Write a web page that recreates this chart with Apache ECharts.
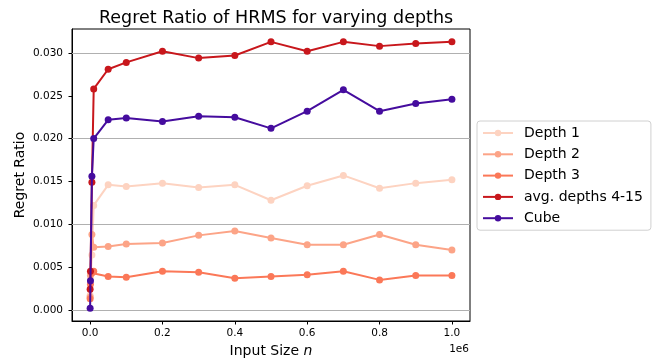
<!DOCTYPE html>
<html>
<head>
<meta charset="utf-8">
<script src="https://cdn.jsdelivr.net/npm/echarts@6/dist/echarts.min.js"></script>
<style>
html,body{margin:0;padding:0;background:#fff;}
#chart{width:662px;height:363px;}
</style>
</head>
<body>
<div id="chart"></div>
<script>
// ---- data ----
var inputSizes = [100, 1000, 5000, 10000, 50000, 100000, 200000, 300000, 400000, 500000, 600000, 700000, 800000, 900000, 1000000];
var depth1 = [0.0017, 0.0035, 0.0064, 0.0122, 0.0146, 0.0144, 0.0148, 0.0143, 0.0146, 0.0128, 0.0145, 0.0157, 0.0142, 0.0148, 0.0152];
var depth2 = [0.0015, 0.0040, 0.0088, 0.0073, 0.0074, 0.0077, 0.0078, 0.0087, 0.0092, 0.0084, 0.0076, 0.0076, 0.0088, 0.0076, 0.0070];
var depth3 = [0.0013, 0.0030, 0.0043, 0.0045, 0.0039, 0.0038, 0.0045, 0.0044, 0.0037, 0.0039, 0.0041, 0.0045, 0.0035, 0.0040, 0.0040];
var avgDepths = [0.0024, 0.0045, 0.0149, 0.0258, 0.0281, 0.0289, 0.0302, 0.0294, 0.0297, 0.0313, 0.0302, 0.0313, 0.0308, 0.0311, 0.0313];
var cube = [0.0002, 0.0034, 0.0156, 0.0200, 0.0222, 0.0224, 0.0220, 0.0226, 0.0225, 0.0212, 0.0232, 0.0257, 0.0232, 0.0241, 0.0246];
var seriesNames = ['Depth 1', 'Depth 2', 'Depth 3', 'avg. depths 4-15', 'Cube'];
var xTicks = [0, 200000, 400000, 600000, 800000, 1000000];
var yTicks = [0, 0.005, 0.010, 0.015, 0.020, 0.025, 0.030];

var colors = ['#fdd3c1', '#fca487', '#fb7858', '#c8171c', '#450c9e'];
var FONT = 'DejaVu Sans';

function pairs(xs, ys) { return xs.map(function (x, i) { return [x, ys[i]]; }); }
var values = [depth1, depth2, depth3, avgDepths, cube];

var series = [{
  name: '_grid', type: 'line', data: [], z: 1, silent: true,
  markLine: {
    silent: true, symbol: 'none', label: {show: false},
    lineStyle: {color: '#b0b0b0', width: 1, type: 'solid'},
    emphasis: {disabled: true},
    animation: false,
    data: yTicks.map(function (v) { return {yAxis: v}; })
  }
}];
seriesNames.forEach(function (n, i) {
  series.push({
    name: n, type: 'line', data: pairs(inputSizes, values[i]),
    symbol: 'circle', symbolSize: 7, showSymbol: true,
    lineStyle: {width: 2, color: colors[i]},
    itemStyle: {color: colors[i]},
    z: 3 + i, animation: false
  });
});

var chart = echarts.init(document.getElementById('chart'));
chart.setOption({
  animation: false,
  backgroundColor: '#fff',
  title: {
    text: 'Regret Ratio of HRMS for varying depths',
    left: 271, top: 4, textAlign: 'center',
    textStyle: {fontFamily: FONT, fontSize: 17.5, fontWeight: 'normal', color: '#000'}
  },
  grid: {left: 72, right: 192, top: 29, bottom: 40, show: true, borderColor: '#000', borderWidth: 1, backgroundColor: 'transparent'},
  legend: {
    data: seriesNames,
    orient: 'vertical', left: 477, top: 121,
    itemWidth: 30, itemHeight: 8, itemGap: 7.3,
    padding: [5, 8, 5, 5],
    backgroundColor: '#fff', borderColor: '#d0d0d0', borderWidth: 1, borderRadius: 3,
    textStyle: {fontFamily: FONT, fontSize: 14, color: '#000', lineHeight: 14, padding: [0, 0, 0, 6]}
  },
  xAxis: {
    type: 'value', min: -50000, max: 1050000,
    name: 'Input Size {i|n}', nameLocation: 'middle', nameGap: 23, nameMoveOverlap: false,
    nameTextStyle: {fontFamily: FONT, fontSize: 14, color: '#000', rich: {i: {fontFamily: FONT, fontSize: 14, fontStyle: 'italic'}}},
    axisLine: {show: true, onZero: false, lineStyle: {color: '#000', width: 1}},
    axisTick: {show: true, length: 3.5, lineStyle: {color: '#000'}, customValues: xTicks},
    axisLabel: {fontFamily: FONT, fontSize: 10.5, color: '#000', margin: 7, customValues: xTicks,
      formatter: function (v) { return (v / 1e6).toFixed(1); }},
    splitLine: {show: false}
  },
  yAxis: {
    type: 'value', min: -0.0013, max: 0.0328,
    name: 'Regret Ratio', nameLocation: 'middle', nameGap: 45, nameMoveOverlap: false,
    nameTextStyle: {fontFamily: FONT, fontSize: 14, color: '#000'},
    axisLine: {show: true, onZero: false, lineStyle: {color: '#000', width: 1}},
    axisTick: {show: true, length: 3.5, lineStyle: {color: '#000'}, customValues: yTicks},
    axisLabel: {fontFamily: FONT, fontSize: 10.5, color: '#000', margin: 9, customValues: yTicks,
      formatter: function (v) { return v.toFixed(3); }},
    splitLine: {show: false}
  },
  graphic: [{
    type: 'text', right: 662 - 469, top: 344,
    style: {text: '1e6', fontFamily: FONT, fontSize: 10.5, fill: '#000'}
  }],
  series: series
});
</script>
</body>
</html>
